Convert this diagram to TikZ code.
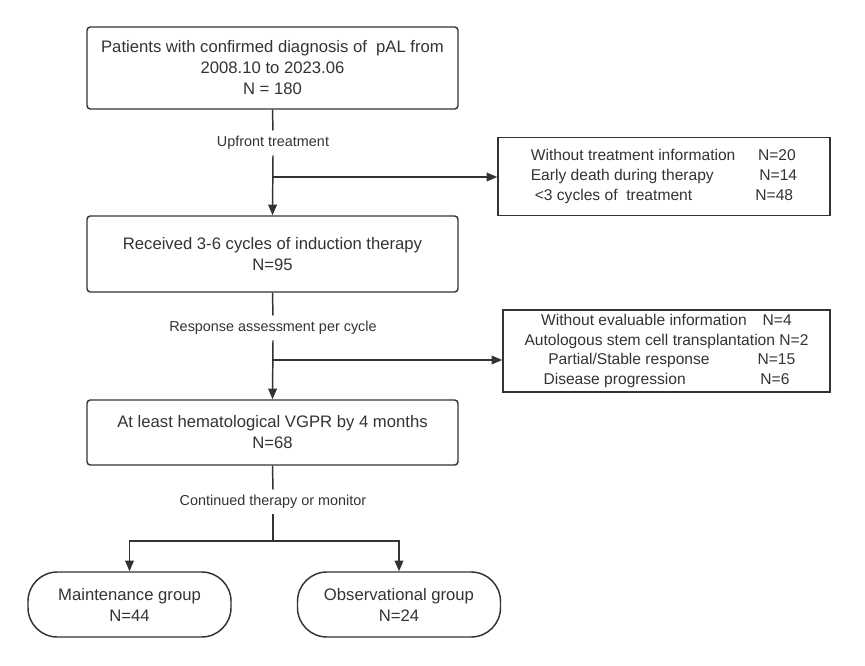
\documentclass[tikz,border=0pt]{standalone}
\usepackage{fontspec}
\setmainfont{Liberation Sans}
\usetikzlibrary{arrows.meta}
\definecolor{ink}{HTML}{333333}
\begin{document}
\begin{tikzpicture}[x=0.75pt,y=-0.75pt,
  font=\fontsize{12.5}{15.75}\selectfont,
  mainbox/.style={draw=ink,line width=1.1pt,rounded corners=2.5pt,text=ink,align=center,inner sep=0pt},
  sidebox/.style={draw=ink,line width=1.1pt,text=ink,inner sep=0pt,font=\fontsize{11.7}{15}\selectfont},
  groupbox/.style={draw=ink,line width=1.1pt,rounded corners=22pt,text=ink,align=center,inner sep=0pt},
  lbl/.style={text=ink,font=\fontsize{10.8}{13}\selectfont,inner sep=0pt},
  conn/.style={draw=ink,line width=1.1pt},
  arr/.style={conn,-{Triangle[length=8pt,width=6.5pt]}}]
\useasboundingbox (0,0) rectangle (865,665);
\node[mainbox,minimum width=371*0.75pt,minimum height=82*0.75pt] (b1) at (272.5,68)
  {Patients with confirmed diagnosis of \ pAL from\\2008.10 to 2023.06\\N = 180};
\node[mainbox,minimum width=371*0.75pt,minimum height=76*0.75pt] (b2) at (272.5,254)
  {Received 3-6 cycles of induction therapy\\N=95};
\node[mainbox,minimum width=371*0.75pt,minimum height=65*0.75pt] (b5) at (272.5,432.5)
  {At least hematological VGPR by 4 months\\N=68};
\node[sidebox,minimum width=332*0.75pt,minimum height=78*0.75pt] (b3) at (664,176.5)
  {\begin{tabular}{@{}l@{\hspace{17pt}}l@{}}
   Without treatment information & N=20\\
   Early death during therapy & \hspace{1pt}N=14\\
   \hspace{3pt}<3 cycles of \ treatment & \hspace{-2pt}N=48
   \end{tabular}};
\node[sidebox,align=center,minimum width=327*0.75pt,minimum height=82*0.75pt,font=\fontsize{11.7}{14.6}\selectfont] (b4) at (666.5,351)
  {Without evaluable information\hspace{12pt}N=4\\
   Autologous stem cell transplantation N=2\\
   \hspace{8pt}Partial/Stable response\hspace{36pt}N=15\\
   Disease progression\hspace{56pt}N=6};
\node[groupbox,minimum width=203*0.75pt,minimum height=65*0.75pt] (g1) at (129.5,604.5)
  {Maintenance group\\N=44};
\node[groupbox,minimum width=203*0.75pt,minimum height=65*0.75pt] (g2) at (399,604.5)
  {Observational group\\N=24};
\node[lbl] (l1) at (273,143) {Upfront treatment};
\node[lbl] (l2) at (273,328) {Response assessment per cycle};
\node[lbl] (l3) at (273,502) {Continued therapy or monitor};
\coordinate (j1) at (273,177);
\coordinate (j2) at (273,360);
\coordinate (j3) at (273,541);
\draw[conn] (b1.south) -- ([yshift=4pt]l1.north);
\draw[arr] ([yshift=-4pt]l1.south) -- (b2.north);
\draw[arr] (j1) -- (j1 -| b3.west);
\draw[conn] (b2.south) -- ([yshift=4pt]l2.north);
\draw[arr] ([yshift=-4pt]l2.south) -- (b5.north);
\draw[arr] (j2) -- (j2 -| b4.west);
\draw[conn] (b5.south) -- ([yshift=4pt]l3.north);
\draw[conn] ([yshift=-4pt]l3.south) -- (j3);
\draw[arr] (j3) -| (g1.north);
\draw[arr] (j3) -| (g2.north);
\end{tikzpicture}
\end{document}
